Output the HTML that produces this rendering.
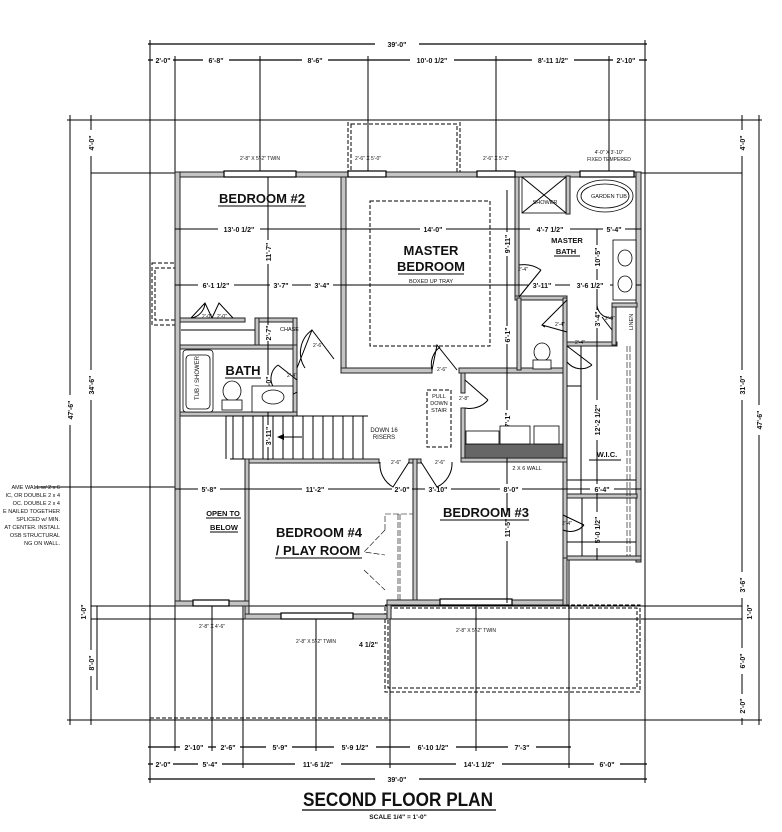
<!DOCTYPE html>
<html><head><meta charset="utf-8"><style>
html,body{margin:0;padding:0;background:#fff}
svg{display:block}
text{font-family:"Liberation Sans",sans-serif;fill:#111}
.w{fill:#c4c4c4;stroke:#222;stroke-width:1}
.l{stroke:#000;stroke-width:1;fill:none}
.t{stroke:#000;stroke-width:1.2;fill:none}
.d{stroke:#000;stroke-width:1;fill:none;stroke-dasharray:4,2}
.d2{stroke:#000;stroke-width:0.6;fill:none;stroke-dasharray:6,2}
.s{font-size:5.5px}
.m{font-size:7.5px;font-weight:bold}
.r{font-size:13px;font-weight:bold}
.win{fill:#fff;stroke:#000;stroke-width:1.2}
.f{fill:#fff;stroke:#000;stroke-width:0.8}
</style></head><body>
<svg width="782" height="832" viewBox="0 0 782 832" xmlns="http://www.w3.org/2000/svg">
<g class="l">
<line x1="150" y1="40" x2="150" y2="783"/><line x1="645" y1="40" x2="645" y2="783"/>
<line x1="175" y1="56" x2="175" y2="173"/><line x1="260" y1="56" x2="260" y2="173"/>
<line x1="368" y1="56" x2="368" y2="173"/><line x1="496" y1="56" x2="496" y2="173"/>
<line x1="609" y1="56" x2="609" y2="173"/>
<line x1="67" y1="120" x2="762" y2="120"/>
<line x1="67" y1="720" x2="762" y2="720"/>
<line x1="70" y1="115" x2="70" y2="725"/><line x1="91" y1="115" x2="91" y2="725"/>
<line x1="742" y1="115" x2="742" y2="725"/><line x1="759" y1="115" x2="759" y2="725"/>
<line x1="91" y1="173" x2="742" y2="173"/>
<line x1="91" y1="606" x2="742" y2="606"/>
<line x1="91" y1="619" x2="742" y2="619"/>
<line x1="35" y1="487" x2="175" y2="487"/>
<line x1="175" y1="603" x2="175" y2="751"/><line x1="212" y1="603" x2="212" y2="751"/>
<line x1="243" y1="603" x2="243" y2="768"/><line x1="316" y1="616" x2="316" y2="751"/>
<line x1="390" y1="616" x2="390" y2="768"/><line x1="476" y1="603" x2="476" y2="751"/>
<line x1="569" y1="560" x2="569" y2="768"/>
<line x1="97" y1="606" x2="97" y2="690"/>
</g>
<g class="t">
<line x1="148" y1="44" x2="647" y2="44"/>
<line x1="148" y1="60" x2="647" y2="60"/>
<line x1="148" y1="747" x2="571" y2="747"/>
<line x1="148" y1="764" x2="647" y2="764"/>
<line x1="148" y1="779" x2="647" y2="779"/>
</g>
<g font-size="7" font-weight="bold" text-anchor="middle">
<rect x="375" y="39" width="44" height="9" fill="#fff"/><text x="397" y="47">39'-0"</text>
<g fill="#fff"><rect x="153" y="55" width="20" height="9"/><rect x="203" y="55" width="26" height="9"/><rect x="302" y="55" width="26" height="9"/><rect x="410" y="55" width="44" height="9"/><rect x="532" y="55" width="42" height="9"/><rect x="613" y="55" width="26" height="9"/></g>
<text x="163" y="63">2'-0"</text><text x="216" y="63">6'-8"</text><text x="315" y="63">8'-6"</text><text x="432" y="63">10'-0 1/2"</text><text x="553" y="63">8'-11 1/2"</text><text x="626" y="63">2'-10"</text>
<g fill="#fff"><rect x="180" y="742" width="28" height="9"/><rect x="216" y="742" width="24" height="9"/><rect x="266" y="742" width="26" height="9"/><rect x="334" y="742" width="42" height="9"/><rect x="410" y="742" width="46" height="9"/><rect x="508" y="742" width="28" height="9"/></g>
<text x="194" y="750">2'-10"</text><text x="228" y="750">2'-6"</text><text x="280" y="750">5'-9"</text><text x="355" y="750">5'-9 1/2"</text><text x="433" y="750">6'-10 1/2"</text><text x="522" y="750">7'-3"</text>
<g fill="#fff"><rect x="153" y="759" width="20" height="9"/><rect x="198" y="759" width="24" height="9"/><rect x="295" y="759" width="46" height="9"/><rect x="456" y="759" width="46" height="9"/><rect x="594" y="759" width="26" height="9"/></g>
<text x="163" y="767">2'-0"</text><text x="210" y="767">5'-4"</text><text x="318" y="767">11'-6 1/2"</text><text x="479" y="767">14'-1 1/2"</text><text x="607" y="767">6'-0"</text>
<rect x="375" y="774" width="44" height="9" fill="#fff"/><text x="397" y="782">39'-0"</text>
</g>
<g font-size="7" font-weight="bold" text-anchor="middle">
<g fill="#fff"><rect x="65" y="395" width="10" height="30"/><rect x="86" y="130" width="10" height="26"/><rect x="86" y="370" width="10" height="30"/><rect x="86" y="650" width="10" height="26"/><rect x="737" y="130" width="10" height="26"/><rect x="737" y="370" width="10" height="30"/><rect x="737" y="572" width="10" height="26"/><rect x="737" y="648" width="10" height="26"/><rect x="737" y="694" width="10" height="24"/><rect x="754" y="405" width="10" height="30"/></g>
<text transform="translate(73,410) rotate(-90)">47'-6"</text>
<text transform="translate(94,143) rotate(-90)">4'-0"</text>
<text transform="translate(94,385) rotate(-90)">34'-6"</text>
<text transform="translate(86,612) rotate(-90)">1'-0"</text>
<text transform="translate(94,663) rotate(-90)">8'-0"</text>
<text transform="translate(745,143) rotate(-90)">4'-0"</text>
<text transform="translate(745,385) rotate(-90)">31'-0"</text>
<text transform="translate(745,585) rotate(-90)">3'-6"</text>
<text transform="translate(752,612) rotate(-90)">1'-0"</text>
<text transform="translate(745,661) rotate(-90)">6'-0"</text>
<text transform="translate(745,706) rotate(-90)">2'-0"</text>
<text transform="translate(762,420) rotate(-90)">47'-6"</text>
</g>
<g font-size="5.5" text-anchor="end">
<text x="60" y="489">AME WALL w/ 2 x 6</text><text x="60" y="497">IC, OR DOUBLE 2 x 4</text>
<text x="60" y="505">OC. DOUBLE 2 x 4</text><text x="60" y="513">E NAILED TOGETHER</text>
<text x="60" y="521">SPLICED w/ MIN.</text><text x="60" y="529">AT CENTER. INSTALL</text>
<text x="60" y="537">OSB STRUCTURAL</text><text x="60" y="545">NG ON WALL.</text>
</g>
<rect class="d" x="152" y="263" width="26" height="62"/><rect class="d" x="155" y="268" width="20" height="52"/>
<rect class="d" x="348" y="120" width="112" height="53"/><rect class="d" x="351" y="124" width="106" height="49"/>
<rect class="d" x="385" y="605" width="255" height="87"/><rect class="d" x="388" y="608" width="249" height="80"/>
<rect class="d" x="370" y="201" width="120" height="145"/>
<line class="d" x1="150" y1="718" x2="390" y2="718"/>
<g class="w">
<rect x="175" y="172" width="466" height="5"/>
<rect x="175" y="172" width="5" height="434"/>
<rect x="636" y="172" width="5" height="390"/>
<rect x="341" y="177" width="5" height="196"/>
<rect x="341" y="368" width="91" height="5"/>
<rect x="459" y="368" width="108" height="5"/>
<rect x="180" y="318" width="65" height="4"/>
<rect x="255" y="318" width="42" height="4"/><rect x="255" y="318" width="4" height="30"/><rect x="293" y="318" width="4" height="30"/>
<rect x="180" y="345" width="117" height="4"/>
<rect x="293" y="345" width="4" height="70"/>
<rect x="180" y="412" width="117" height="4"/>
<rect x="515" y="177" width="4" height="120"/>
<rect x="515" y="296" width="52" height="4"/>
<rect x="517" y="298" width="4" height="72"/>
<rect x="563" y="298" width="4" height="305"/>
<rect x="566" y="176" width="4" height="38"/>
<rect x="567" y="342" width="50" height="4"/>
<rect x="612" y="305" width="4" height="40"/><rect x="612" y="303" width="25" height="4"/>
<rect x="567" y="494" width="70" height="4"/>
<rect x="567" y="556" width="74" height="4"/>
<rect x="461" y="373" width="4" height="20"/>
<rect x="461" y="408" width="4" height="54"/>
<rect x="461" y="458" width="106" height="4"/>
<rect x="245" y="459" width="134" height="4"/>
<rect x="409" y="459" width="12" height="4"/>
<rect x="245" y="459" width="4" height="160"/>
<rect x="175" y="601" width="74" height="5"/>
<rect x="245" y="614" width="146" height="5"/>
<rect x="387" y="600" width="4" height="19"/>
<rect x="413" y="459" width="4" height="146"/>
<rect x="387" y="600" width="180" height="5"/>
<rect x="563" y="558" width="4" height="47"/>
</g>
<g class="win">
<rect x="224" y="171" width="72" height="6"/><rect x="348" y="171" width="38" height="6"/>
<rect x="477" y="171" width="38" height="6"/><rect x="580" y="171" width="54" height="6"/>
<rect x="193" y="600" width="36" height="6"/><rect x="281" y="613" width="72" height="6"/>
<rect x="440" y="599" width="72" height="6"/>
</g>
<g font-size="5" text-anchor="middle">
<text x="260" y="160">2'-8" X 5'-2" TWIN</text><text x="368" y="160">2'-6" X 5'-0"</text>
<text x="496" y="160">2'-6" X 5'-2"</text><text x="609" y="154">4'-0" X 3'-10"</text><text x="609" y="161">FIXED TEMPERED</text>
<text x="212" y="628">2'-8" X 4'-6"</text><text x="316" y="643">2'-8" X 5'-2" TWIN</text><text x="476" y="632">2'-8" X 5'-2" TWIN</text>
</g>
<text x="359" y="647" font-size="7" font-weight="bold">4 1/2"</text>
<g class="l">
<line x1="175" y1="229" x2="641" y2="229"/>
<line x1="175" y1="285" x2="641" y2="285"/>
<line x1="175" y1="489" x2="641" y2="489"/>
<line x1="268" y1="177" x2="268" y2="460"/>
<line x1="507" y1="190" x2="507" y2="603"/>
<line x1="597" y1="229" x2="597" y2="560"/>
</g>
<g font-size="7" font-weight="bold" text-anchor="middle">
<g fill="#fff"><rect x="218" y="224" width="42" height="9"/><rect x="420" y="224" width="26" height="9"/><rect x="530" y="224" width="40" height="9"/><rect x="603" y="224" width="22" height="9"/>
<rect x="198" y="280" width="36" height="9"/><rect x="270" y="280" width="22" height="9"/><rect x="311" y="280" width="22" height="9"/><rect x="529" y="280" width="26" height="9"/><rect x="570" y="280" width="40" height="9"/><rect x="617" y="280" width="18" height="9"/>
<rect x="198" y="484" width="22" height="9"/><rect x="302" y="484" width="26" height="9"/><rect x="392" y="484" width="20" height="9"/><rect x="425" y="484" width="26" height="9"/><rect x="500" y="484" width="22" height="9"/><rect x="590" y="484" width="24" height="9"/></g>
<text x="239" y="232">13'-0 1/2"</text><text x="433" y="232">14'-0"</text><text x="550" y="232">4'-7 1/2"</text><text x="614" y="232">5'-4"</text>
<text x="216" y="288">6'-1 1/2"</text><text x="281" y="288">3'-7"</text><text x="322" y="288">3'-4"</text><text x="542" y="288">3'-11"</text><text x="590" y="288">3'-6 1/2"</text><text x="626" y="288">2'-6"</text>
<text x="209" y="492">5'-8"</text><text x="315" y="492">11'-2"</text><text x="402" y="492">2'-0"</text><text x="438" y="492">3'-10"</text><text x="511" y="492">8'-0"</text><text x="602" y="492">6'-4"</text>
<g fill="#fff"><rect x="264" y="240" width="9" height="24"/><rect x="264" y="325" width="9" height="16"/><rect x="264" y="375" width="9" height="18"/><rect x="264" y="425" width="9" height="22"/><rect x="503" y="232" width="9" height="24"/><rect x="503" y="326" width="9" height="18"/><rect x="503" y="410" width="9" height="20"/><rect x="503" y="515" width="9" height="26"/><rect x="593" y="245" width="9" height="24"/><rect x="593" y="310" width="9" height="18"/><rect x="593" y="400" width="9" height="40"/><rect x="593" y="512" width="9" height="36"/></g>
<text transform="translate(271,252) rotate(-90)">11'-7"</text>
<text transform="translate(271,333) rotate(-90)">2'-7"</text>
<text transform="translate(271,384) rotate(-90)">5'-0"</text>
<text transform="translate(271,436) rotate(-90)">3'-11"</text>
<text transform="translate(510,244) rotate(-90)">9'-11"</text>
<text transform="translate(510,335) rotate(-90)">6'-1"</text>
<text transform="translate(510,420) rotate(-90)">7'-1"</text>
<text transform="translate(510,528) rotate(-90)">11'-5"</text>
<text transform="translate(600,257) rotate(-90)">10'-5"</text>
<text transform="translate(600,319) rotate(-90)">3'-4"</text>
<text transform="translate(600,420) rotate(-90)">12'-2 1/2"</text>
<text transform="translate(600,530) rotate(-90)">5'-0 1/2"</text>
</g>
<g class="l">
<line x1="226" y1="416" x2="368" y2="416"/><line x1="226" y1="416" x2="226" y2="459"/>
<line x1="233" y1="416" x2="233" y2="459"/><line x1="243" y1="416" x2="243" y2="459"/><line x1="253" y1="416" x2="253" y2="459"/><line x1="263" y1="416" x2="263" y2="459"/><line x1="273" y1="416" x2="273" y2="459"/><line x1="283" y1="416" x2="283" y2="459"/><line x1="293" y1="416" x2="293" y2="459"/><line x1="303" y1="416" x2="303" y2="459"/><line x1="313" y1="416" x2="313" y2="459"/><line x1="323" y1="416" x2="323" y2="459"/><line x1="333" y1="416" x2="333" y2="459"/><line x1="343" y1="416" x2="343" y2="459"/><line x1="353" y1="416" x2="353" y2="459"/><line x1="363" y1="416" x2="363" y2="459"/>
<line x1="230" y1="459" x2="245" y2="459"/>
<line x1="282" y1="437" x2="302" y2="437"/>
</g>
<path d="M277 437 L284 434 L284 440 Z" fill="#000"/>
<text x="384" y="432" font-size="6" text-anchor="middle">DOWN 16</text><text x="384" y="439" font-size="6" text-anchor="middle">RISERS</text>
<rect class="d" x="427" y="390" width="24" height="57"/>
<text x="439" y="398" font-size="5.5" text-anchor="middle">PULL</text><text x="439" y="405" font-size="5.5" text-anchor="middle">DOWN</text><text x="439" y="412" font-size="5.5" text-anchor="middle">STAIR</text>
<rect x="465" y="444" width="98" height="14" fill="#666" stroke="#000" stroke-width=".6"/>
<rect x="466" y="431" width="33" height="13" class="f"/><rect x="500" y="426" width="30" height="18" class="f"/><rect x="534" y="426" width="25" height="18" class="f"/>
<text x="527" y="470" font-size="5.5" text-anchor="middle">2 X 6 WALL</text>
<g class="l">
<path d="M191 318 L205 303 L212 318 M205 303 A16 16 0 0 1 191 318"/>
<path d="M212 318 L219 303 L233 318"/>
<path d="M297 368 L312 330 L334 359 M305 368 A28 28 0 0 1 312 330"/>
<path d="M297 380 L278 365 M297 392 A12 12 0 0 1 278 365"/>
<path d="M432 370 L437 345 L457 370 M432 370 A22 22 0 0 1 440 347"/>
<path d="M465 380 L488 400 M465 408 A24 24 0 0 0 488 400"/>
<path d="M380 462 A26 26 0 0 0 393 487 L409 462"/>
<path d="M421 462 L437 487 A26 26 0 0 0 452 462"/>
<path d="M519 297 L541 270 M519 265 A30 30 0 0 1 541 270"/>
<path d="M567 300 L542 325 L567 332 M542 325 A18 18 0 0 0 545 327"/>
<path d="M567 346 L592 365 M567 362 A18 18 0 0 0 592 365"/>
<path d="M612 330 L602 317 M597 305 A14 14 0 0 0 612 318"/>
<path d="M563 515 L584 525 M563 530 A18 18 0 0 0 584 525"/>
</g>
<g class="d2"><path d="M385 530 L364 552 L385 555 M364 570 L385 590"/><path d="M385 530 L385 514 L413 514"/><line x1="398" y1="514" x2="398" y2="600"/><line x1="400" y1="514" x2="400" y2="600"/></g>
<g font-size="5" text-anchor="middle">
<text x="207" y="318">2'-0"</text><text x="222" y="318">2'-0"</text><text x="318" y="347">2'-6"</text><text x="292" y="377">2'-4"</text>
<text x="442" y="371">2'-6"</text><text x="464" y="400">2'-8"</text><text x="396" y="464">2'-6"</text><text x="440" y="464">2'-6"</text>
<text x="523" y="271">2'-4"</text><text x="560" y="326">2'-4"</text><text x="580" y="344">2'-4"</text><text x="610" y="320">2'-0"</text><text x="567" y="525">2'-4"</text>
</g>
<text x="280" y="331" font-size="5.5">CHASE</text>
<text transform="translate(633,330) rotate(-90)" font-size="5.5">LINEN</text>
<rect x="183" y="350" width="30" height="62" rx="3" class="f"/><rect x="186" y="355" width="24" height="54" rx="4" class="f"/>
<text transform="translate(199,400) rotate(-90)" font-size="6">TUB / SHOWER</text>
<ellipse cx="232" cy="391" rx="9" ry="10" class="f"/><rect x="222" y="400" width="20" height="10" class="f"/>
<rect x="252" y="386" width="41" height="26" class="f"/><ellipse cx="273" cy="397" rx="11" ry="7" class="f"/>
<rect x="522" y="177" width="44" height="36" class="f"/><path d="M522 177 L566 213 M566 177 L522 213" class="l"/>
<text x="545" y="204" font-size="5.5" text-anchor="middle">SHOWER</text>
<ellipse cx="605" cy="196" rx="28" ry="16" class="f"/><ellipse cx="605" cy="196" rx="24" ry="12" class="f"/>
<text x="609" y="198" font-size="5.5" text-anchor="middle">GARDEN TUB</text>
<rect x="613" y="240" width="23" height="60" class="f"/><ellipse cx="625" cy="258" rx="7" ry="8" class="f"/><ellipse cx="625" cy="284" rx="7" ry="8" class="f"/>
<ellipse cx="542" cy="352" rx="8" ry="9" class="f"/><rect x="533" y="360" width="18" height="9" class="f"/>
<g class="l"><line x1="181" y1="330" x2="255" y2="330"/><line x1="581" y1="346" x2="581" y2="494"/><line x1="582" y1="498" x2="582" y2="556"/><line x1="567" y1="386" x2="581" y2="386"/><line x1="567" y1="480" x2="636" y2="480"/><line x1="567" y1="542" x2="636" y2="542"/></g>
<g class="d2"><line x1="627" y1="346" x2="627" y2="556"/><line x1="630" y1="346" x2="630" y2="556"/></g>
<g class="r" text-anchor="middle">
<text x="262" y="203">BEDROOM #2</text><line x1="218" y1="206" x2="306" y2="206" class="l"/>
<text x="431" y="255">MASTER</text><text x="431" y="271">BEDROOM</text><line x1="398" y1="274" x2="464" y2="274" class="l"/>
<text x="243" y="375">BATH</text><line x1="225" y1="378" x2="261" y2="378" class="l"/>
<text x="486" y="517">BEDROOM #3</text><line x1="440" y1="520" x2="529" y2="520" class="l"/>
<text x="319" y="537">BEDROOM #4</text><text x="318" y="555">/ PLAY ROOM</text><line x1="275" y1="558" x2="362" y2="558" class="l"/>
</g>
<text x="431" y="283" font-size="5.5" text-anchor="middle">BOXED UP TRAY</text>
<g class="m" text-anchor="middle">
<text x="567" y="243">MASTER</text><text x="566" y="254">BATH</text><line x1="554" y1="256" x2="580" y2="256" class="l"/>
<text x="607" y="457">W.I.C.</text><line x1="589" y1="460" x2="621" y2="460" class="l"/>
<text x="223" y="516">OPEN TO</text><line x1="206" y1="518" x2="241" y2="518" class="l"/><text x="224" y="530">BELOW</text><line x1="210" y1="532" x2="238" y2="532" class="l"/>
</g>
<text x="398" y="806" font-size="19" font-weight="bold" text-anchor="middle" textLength="190" lengthAdjust="spacingAndGlyphs">SECOND FLOOR PLAN</text>
<line x1="302" y1="810" x2="496" y2="810" stroke="#000" stroke-width="1.2"/>
<text x="398" y="819" font-size="6.5" font-weight="bold" text-anchor="middle">SCALE 1/4" = 1'-0"</text>
</svg>
</body></html>
